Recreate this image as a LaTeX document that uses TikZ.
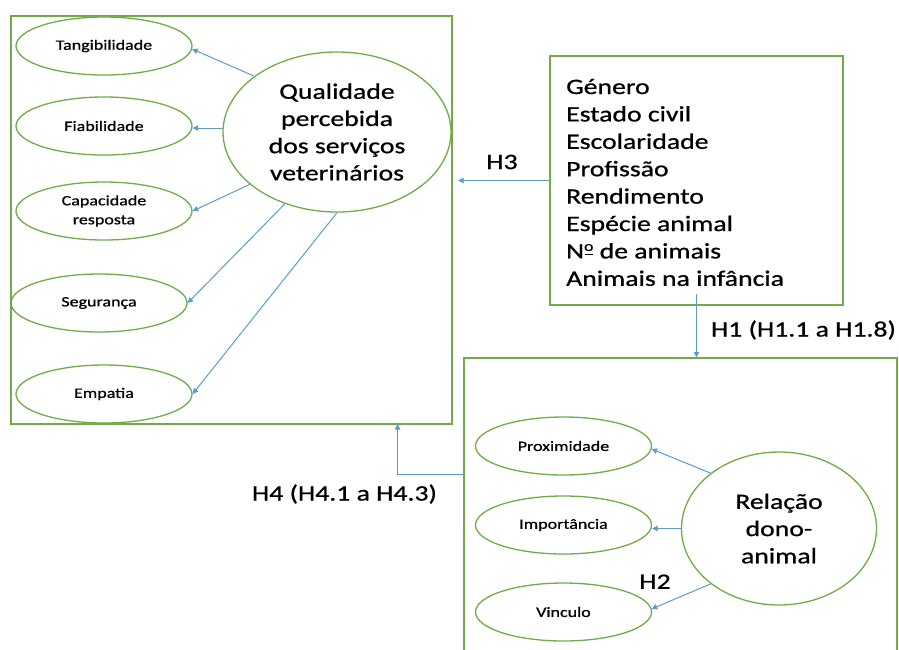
\documentclass[tikz,border=0pt]{standalone}
\usepackage{fontspec}
\setmainfont{Carlito}[FakeStretch=1.26,FakeBold=0.8]
\usetikzlibrary{shapes.geometric,arrows.meta,calc}
\definecolor{grn}{HTML}{70AD47}
\definecolor{blu}{HTML}{5B9BD5}
\newcommand{\ordo}{\ooalign{\raisebox{7.5pt}{\fontsize{14}{14}\selectfont o}\cr\hfil\rule[3.8pt]{8pt}{1.1pt}\hfil\cr}}
\begin{document}
\begin{tikzpicture}[x=1pt,y=-1pt,
  box/.style={draw=grn,line width=1.3pt,rectangle,inner sep=0pt},
  small/.style={draw=grn,line width=1.3pt,ellipse,inner sep=0pt,minimum width=176pt,minimum height=58pt,align=center,font=\fontsize{14.3}{19}\selectfont},
  big/.style={draw=grn,line width=1.3pt,ellipse,inner sep=0pt,align=center,font=\fontsize{22}{27.2}\selectfont},
  lbl/.style={inner sep=0pt,font=\fontsize{22}{27.4}\selectfont},
  arr/.style={draw=blu,line width=1pt,-{Triangle[length=5.5pt,width=5.5pt]}}]
\clip (0,0) rectangle (899,649);
\fill[white] (0,0) rectangle (899,649);
% boxes
\node[box,minimum width=441pt,minimum height=408pt] (lbx) at (231.5,220) {};
\node[box,minimum width=293pt,minimum height=249pt] (rb) at (696.5,180.5) {};
\node[box,minimum width=433pt,minimum height=342pt] (lb) at (680.5,529) {};
% left ellipses
\node[small] (tang) at (104,46) {Tangibilidade};
\node[small] (fia) at (104,126) {Fiabilidade};
\node[small] (cap) at (104,211) {Capacidade\\resposta};
\node[small] (seg) at (99,303) {Segurança};
\node[small] (emp) at (104,394) {Empatia};
\node[big,minimum width=228pt,minimum height=160pt] (q) at (337,132) {Qualidade\\percebida\\dos serviços\\veterinários};
% right box text
\foreach \t [count=\i] in {Género,Estado civil,Escolaridade,Profissão,Rendimento,Espécie animal,N\ordo{} de animais,Animais na infância}
  \node[lbl,anchor=base west] (l\i) at (566,{94+27.4*(\i-1)}) {\t};
% lower ellipses
\node[small] (prox) at (563.5,446) {Proximidade};
\node[small] (imp) at (563.5,525) {Importância};
\node[small] (vin) at (563.5,612) {Vinculo};
\node[big,minimum width=195pt,minimum height=153pt] (R) at (779,528.5) {Relação\\dono-\\animal};
% connectors left
\draw[arr] (q.146) -- (tang.-2);
\draw[arr] (q.178) -- (q.178 -| fia.east);
\draw[arr] (q.211) -- (cap.east);
\draw[arr] (q.234) -- (seg.east);
\draw[arr] (q.south) -- (emp.east);
% connectors lower
\draw[arr] (R.141) -- (prox.-2);
\draw[arr] (R.west) -- (R.west -| imp.east);
\draw[arr] (R.219) -- (vin.2);
% H3
\coordinate (h3e) at (458,180.5);
\draw[arr] (rb.west) -- (h3e);
\node[lbl] (h3) at (502,162) {H3};
% H1
\coordinate (h1s) at (696.5,294);
\draw[arr] (h1s) -- (h1s |- lb.north);
\node[lbl] (h1) at (803.5,330) {H1 (H1.1 a H1.8)};
% H4
\coordinate (h4e) at (397.6,424);
\draw[arr] (lb.west) -- ++(0,-54.3) -| (h4e);
\node[lbl] (h4) at (344.5,494) {H4 (H4.1 a H4.3)};
% H2
\node[lbl] (h2) at (655,581.7) {H2};
\end{tikzpicture}
\end{document}
